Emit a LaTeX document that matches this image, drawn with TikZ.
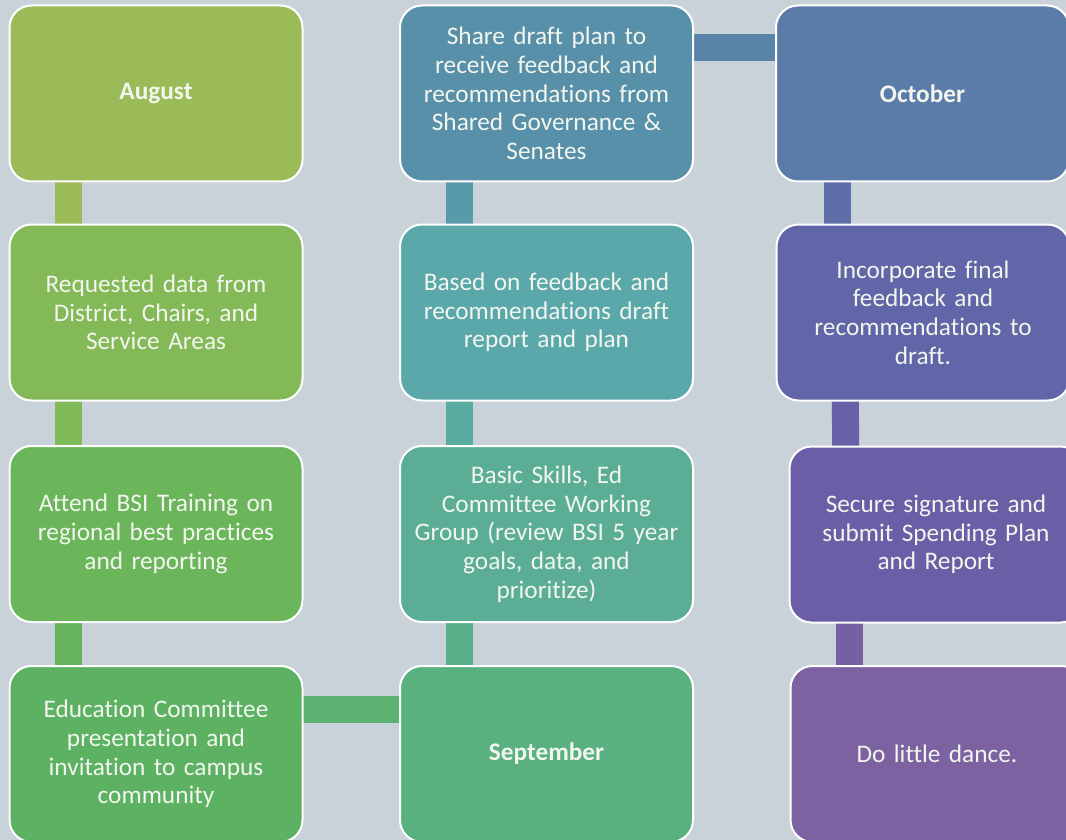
\documentclass[tikz,border=0pt]{standalone}
\usepackage{fontspec}
\setmainfont{Carlito}[Ligatures={CommonOff}]
\usetikzlibrary{backgrounds}
\definecolor{bgc}{HTML}{C8D2D8}
\definecolor{cAug}{HTML}{9BBB59}
\definecolor{cReq}{HTML}{84B958}
\definecolor{cAtt}{HTML}{6BB65A}
\definecolor{cEdu}{HTML}{5CB262}
\definecolor{cSep}{HTML}{58B17E}
\definecolor{cBas}{HTML}{5BAE95}
\definecolor{cBsd}{HTML}{5AA8AA}
\definecolor{cShr}{HTML}{5890AA}
\definecolor{cOct}{HTML}{5B7BA8}
\definecolor{cInc}{HTML}{6066A8}
\definecolor{cSec}{HTML}{6B5EA6}
\definecolor{cDnc}{HTML}{7D62A2}
\definecolor{txt}{HTML}{F2F6EE}
\begin{document}
\begin{tikzpicture}[x=1pt,y=-1pt,
  box/.style={rectangle, rounded corners=22pt, draw=white, line width=2pt,
    minimum width=293pt, minimum height=176pt, inner sep=0pt,
    text width=285pt, align=center, text=txt,
    font=\fontsize{25.3}{28.7}\selectfont},
  month/.style={font=\fontsize{25.3}{28.7}\selectfont\bfseries},
  conn/.style={line width=27pt, line cap=butt}]
\useasboundingbox (0,0) rectangle (1066,840);
\node[box, fill=cAug, month] (aug) at (156,93.5) {August};
\node[box, fill=cReq] (req) at (156,312.5) {Requested data from\\District, Chairs, and\\Service Areas};
\node[box, fill=cAtt] (att) at (156,534) {Attend BSI Training on\\regional best practices\\and reporting};
\node[box, fill=cEdu] (edu) at (156,754) {Education Committee\\presentation and\\invitation to campus\\community};
\node[box, fill=cSep, month] (sep) at (546.5,754) {September};
\node[box, fill=cBas] (bas) at (546.5,534) {Basic Skills, Ed\\Committee Working\\Group (review BSI 5 year\\goals, data, and\\prioritize)};
\node[box, fill=cBsd] (bsd) at (546.5,312.5) {Based on feedback and\\recommendations draft\\report and plan};
\node[box, fill=cShr] (shr) at (546.5,93.5) {Share draft plan to\\receive feedback and\\recommendations from\\Shared Governance \&\\Senates};
\node[box, fill=cOct, month] (oct) at (922.5,93.5) {October};
\node[box, fill=cInc] (inc) at (923,312.5) {Incorporate final\\feedback and\\recommendations to\\draft.};
\node[box, fill=cSec] (sec) at (936,534.5) {Secure signature and\\submit Spending Plan\\and Report};
\node[box, fill=cDnc] (dnc) at (937,754) {Do little dance.};
\begin{scope}[on background layer]
  \fill[bgc] (0,0) rectangle (1066,840);
  \draw[conn, draw=cAug] ([xshift=-87.5pt]aug.center) -- ([xshift=-87.5pt]req.center);
  \draw[conn, draw=cReq!85!cAtt] ([xshift=-87.5pt]req.center) -- ([xshift=-87.5pt]att.center);
  \draw[conn, draw=cAtt!60!cEdu] ([xshift=-87.5pt]att.center) -- ([xshift=-87.5pt]edu.center);
  \draw[conn, draw=cEdu!50!cSep] ([yshift=44.5pt]edu.center) -- ([yshift=44.5pt]sep.center);
  \draw[conn, draw=cSep!50!cBas] ([xshift=-87pt]sep.center) -- ([xshift=-87pt]bas.center);
  \draw[conn, draw=cBas!50!cBsd] ([xshift=-87pt]bas.center) -- ([xshift=-87pt]bsd.center);
  \draw[conn, draw=cBsd!40!cShr] ([xshift=-87pt]bsd.center) -- ([xshift=-87pt]shr.center);
  \draw[conn, draw=cShr!40!cOct] ([yshift=45.5pt]shr.center) -- ([yshift=45.5pt]oct.center);
  \draw[conn, draw=cOct!40!cInc] ([xshift=-85.5pt]oct.center) -- ([xshift=-86pt]inc.center);
  \draw[conn, draw=cInc!40!cSec] ([xshift=-78pt]inc.center) -- ([xshift=-90pt]sec.center);
  \draw[conn, draw=cSec!40!cDnc] ([xshift=-86.5pt]sec.center) -- ([xshift=-87.5pt]dnc.center);
\end{scope}
\end{tikzpicture}
\end{document}
